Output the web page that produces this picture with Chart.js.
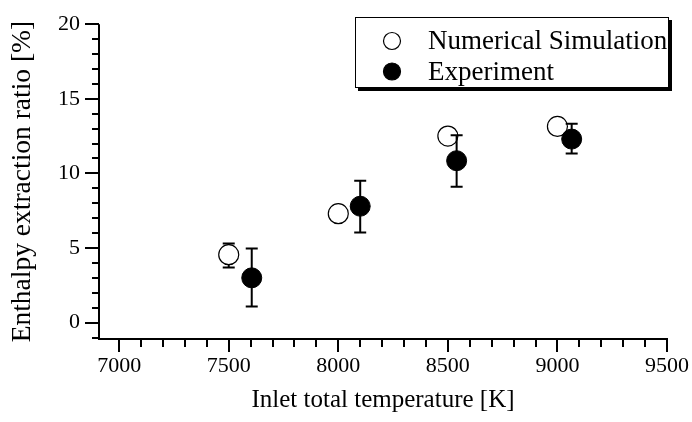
<!DOCTYPE html>
<html>
<head>
<meta charset="utf-8">
<script src="https://cdn.jsdelivr.net/npm/chart.js@4.4.1/dist/chart.umd.min.js"></script>
<style>
  html, body { margin: 0; padding: 0; background: #fff; }
  #wrap { width: 692px; height: 422px; }
</style>
</head>
<body>
<div id="wrap"><canvas id="chart" width="692" height="422"></canvas></div>
<script>
// data
const simTemp = [7500, 8000, 8500, 9000];
const simRatio = [4.55, 7.3, 12.5, 13.15];
const simErrLow = [3.7, null, null, null];
const simErrHigh = [5.3, null, null, null];

const expTemp = [7605, 8100, 8540, 9065];
const expRatio = [3.0, 7.8, 10.85, 12.3];
const expErrLow = [1.07, 6.03, 9.1, 11.33];
const expErrHigh = [4.96, 9.5, 12.55, 13.33];

const xMajorTicks = [7000, 7500, 8000, 8500, 9000, 9500];
const yMajorTicks = [0, 5, 10, 15, 20];

const serif = "'Liberation Serif', 'DejaVu Serif', serif";

function points(xs, ys) {
    return xs.map((x, i) => ({ x: x, y: ys[i] }));
}

// error bars, drawn just before the dataset they belong to
const errorBars = {
    id: 'errorBars',
    beforeDatasetDraw(chart, args) {
        const ds = chart.data.datasets[args.index];
        if (!ds.errLow) return;
        const xs = chart.scales.x, ys = chart.scales.y;
        const ctx = chart.ctx;
        ctx.save();
        ctx.strokeStyle = '#000';
        ctx.lineWidth = 2;
        ds.data.forEach((p, i) => {
            if (ds.errLow[i] == null) return;
            const px = xs.getPixelForValue(p.x);
            const top = ys.getPixelForValue(ds.errHigh[i]);
            const bot = ys.getPixelForValue(ds.errLow[i]);
            ctx.beginPath();
            ctx.moveTo(px, top); ctx.lineTo(px, bot);
            ctx.moveTo(px - 6, top); ctx.lineTo(px + 6, top);
            ctx.moveTo(px - 6, bot); ctx.lineTo(px + 6, bot);
            ctx.stroke();
        });
        ctx.restore();
    }
};

// axis lines, major and minor tick marks, legend box
const frame = {
    id: 'frame',
    afterDraw(chart) {
        const ctx = chart.ctx;
        const xs = chart.scales.x, ys = chart.scales.y;
        const left = xs.left, bottom = ys.bottom;
        ctx.save();
        ctx.strokeStyle = '#000';
        ctx.lineWidth = 2;
        ctx.beginPath();
        ctx.moveTo(left, ys.top);
        ctx.lineTo(left, bottom);
        ctx.lineTo(xs.getPixelForValue(9500) + 1, bottom);
        ctx.stroke();

        ctx.beginPath();
        for (let v = 7000; v <= 9500; v += 100) {
            const px = Math.round(xs.getPixelForValue(v));
            const len = xMajorTicks.includes(v) ? 13 : 8;
            ctx.moveTo(px, bottom); ctx.lineTo(px, bottom + len);
        }
        for (let v = -1; v <= 20; v += 1) {
            const py = Math.round(ys.getPixelForValue(v));
            const len = yMajorTicks.includes(v) ? 14 : 7;
            ctx.moveTo(left, py); ctx.lineTo(left - len, py);
        }
        ctx.stroke();

        // legend
        const bx = 355, by = 17, bw = 314, bh = 71;
        ctx.fillStyle = '#000';
        ctx.fillRect(bx + 3, by + 3, bw, bh);
        ctx.fillStyle = '#fff';
        ctx.fillRect(bx, by, bw, bh);
        ctx.lineWidth = 1;
        ctx.strokeRect(bx + 0.5, by + 0.5, bw - 1, bh - 1);

        chart.data.datasets.forEach((ds, i) => {
            const cy = 41 + i * 30.5;
            ctx.beginPath();
            ctx.arc(392, cy, 8.5, 0, Math.PI * 2);
            ctx.fillStyle = ds.backgroundColor;
            ctx.fill();
            ctx.lineWidth = 1.2;
            ctx.strokeStyle = '#000';
            ctx.stroke();
            ctx.fillStyle = '#000';
            ctx.font = '27px ' + serif;
            ctx.textBaseline = 'middle';
            ctx.fillText(ds.label, 428, cy + 1);
        });
        ctx.restore();
    }
};

new Chart(document.getElementById('chart'), {
    type: 'scatter',
    data: {
        datasets: [{
            label: 'Numerical Simulation',
            data: points(simTemp, simRatio),
            errLow: simErrLow,
            errHigh: simErrHigh,
            backgroundColor: '#fff',
            borderColor: '#000',
            borderWidth: 1.2,
            pointRadius: 10,
            order: 2
        }, {
            label: 'Experiment',
            data: points(expTemp, expRatio),
            errLow: expErrLow,
            errHigh: expErrHigh,
            backgroundColor: '#000',
            borderColor: '#000',
            borderWidth: 1,
            pointRadius: 10,
            order: 1
        }]
    },
    options: {
        responsive: false,
        animation: false,
        layout: { padding: { left: 0, right: 0, top: 12, bottom: 0 } },
        plugins: { legend: { display: false }, tooltip: { enabled: false } },
        scales: {
            x: {
                type: 'linear',
                min: 6908,
                max: 9500,
                afterBuildTicks: s => { s.ticks = xMajorTicks.map(v => ({ value: v })); },
                afterFit: s => { s.height = 83; s.paddingRight = 25; s.paddingLeft = 0; },
                grid: { display: false },
                border: { display: false },
                ticks: {
                    color: '#000',
                    padding: 6,
                    font: { family: serif, size: 22 },
                    callback: v => String(v)
                },
                title: {
                    display: true,
                    text: 'Inlet total temperature [K]',
                    color: '#000',
                    font: { family: serif, size: 25 },
                    padding: { top: 0, bottom: 7 }
                }
            },
            y: {
                min: -1.1,
                max: 20,
                afterBuildTicks: s => { s.ticks = yMajorTicks.map(v => ({ value: v })); },
                afterFit: s => { s.width = 99; },
                grid: { display: false },
                border: { display: false },
                ticks: {
                    color: '#000',
                    padding: 11,
                    font: { family: serif, size: 22 },
                    callback: v => String(v)
                },
                title: {
                    display: true,
                    text: 'Enthalpy extraction ratio [%]',
                    color: '#000',
                    font: { family: serif, size: 27.5 },
                    padding: { top: 6, bottom: 0 }
                }
            }
        }
    },
    plugins: [errorBars, frame]
});
</script>
</body>
</html>
